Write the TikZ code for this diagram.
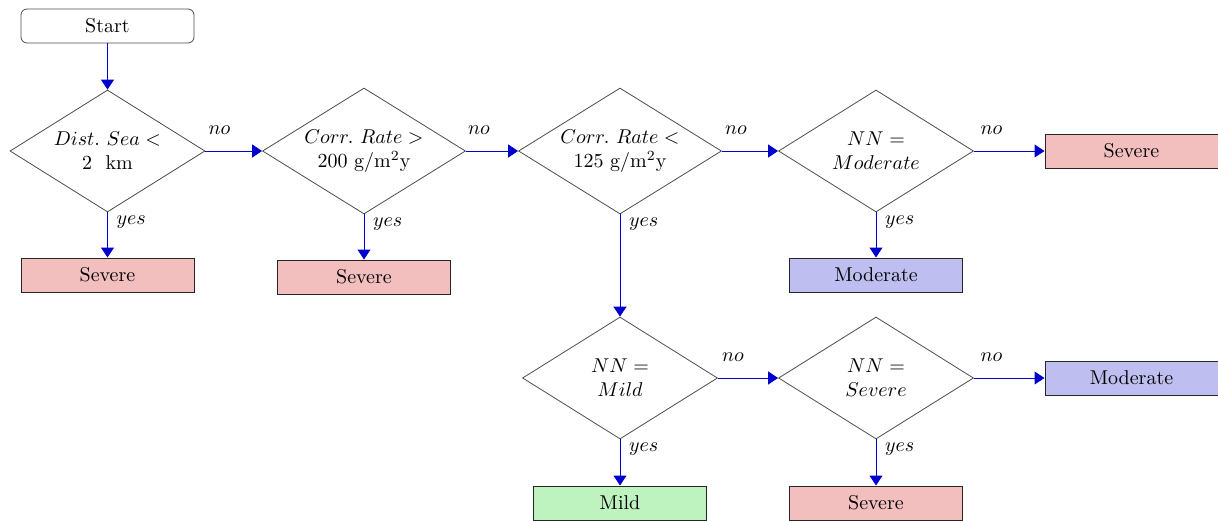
\documentclass[tikz,border=0pt]{standalone}
\usetikzlibrary{shapes.geometric,arrows.meta}
\definecolor{arrowblue}{RGB}{0,0,205}
\definecolor{sevfill}{RGB}{242,190,190}
\definecolor{modfill}{RGB}{190,190,240}
\definecolor{mildfill}{RGB}{190,242,190}
\tikzset{
  startbox/.style={draw=black!70, rounded corners=3pt, minimum width=86.5pt, minimum height=17pt, inner sep=0pt, line width=0.4pt},
  outbox/.style={draw=black!85, minimum width=86.5pt, minimum height=17pt, inner sep=0pt, line width=0.5pt},
  sevbox/.style={outbox, fill=sevfill},
  modbox/.style={outbox, fill=modfill},
  mildbox/.style={outbox, fill=mildfill},
  decision/.style={diamond, shape aspect=1.6, draw=black!70, line width=0.4pt, inner sep=0pt, align=center, minimum width=97.5pt, minimum height=61pt},
  bigdecision/.style={decision, minimum width=101.5pt, minimum height=63pt},
  flow/.style={draw=arrowblue, line width=0.5pt, -{Triangle[length=5pt,width=6.5pt]}},
  nolabel/.style={pos=0.25, above=4.7pt, text=black},
  yeslabel/.style={pos=0, anchor=west, yshift=-5pt, xshift=1pt, text=black}
}
\begin{document}
\begin{tikzpicture}[x=0.5pt, y=-0.5pt]
\useasboundingbox (0,0) rectangle (1218,520);
\node[startbox] (start) at (107.5,26) {Start};
\node[decision] (d1) at (107.5,151) {$Dist.\ Sea <$\\ 2~~km};
\node[sevbox] (s1) at (107.5,275) {Severe};
\node[bigdecision] (d2) at (364,151) {$Corr.\ Rate >$\\ 200 g/m$^2$y};
\node[sevbox] (s2) at (364,277) {Severe};
\node[bigdecision] (d3) at (620,151) {$Corr.\ Rate <$\\ 125 g/m$^2$y};
\node[decision] (d4) at (876,151) {$NN =$\\ $Moderate$};
\node[sevbox] (s3) at (1131.5,151) {Severe};
\node[modbox] (m1) at (876,275) {Moderate};
\node[decision] (d5) at (620,378) {$NN =$\\ $Mild$};
\node[mildbox] (mi) at (620,503) {Mild};
\node[decision] (d6) at (876,378) {$NN =$\\ $Severe$};
\node[modbox] (m2) at (1131.5,378) {Moderate};
\node[sevbox] (s4) at (876,503) {Severe};

\draw[flow] (start) -- (d1);
\draw[flow] (d1.south) -- node[yeslabel] {$yes$} (s1);
\draw[flow] (d1.east) -- node[nolabel] {$no$} (d2.west);
\draw[flow] (d2.south) -- node[yeslabel] {$yes$} (s2);
\draw[flow] (d2.east) -- node[nolabel] {$no$} (d3.west);
\draw[flow] (d3.south) -- node[yeslabel] {$yes$} (d5.north);
\draw[flow] (d3.east) -- node[nolabel] {$no$} (d4.west);
\draw[flow] (d4.south) -- node[yeslabel] {$yes$} (m1);
\draw[flow] (d4.east) -- node[nolabel] {$no$} (s3.west);
\draw[flow] (d5.south) -- node[yeslabel] {$yes$} (mi);
\draw[flow] (d5.east) -- node[nolabel] {$no$} (d6.west);
\draw[flow] (d6.south) -- node[yeslabel] {$yes$} (s4);
\draw[flow] (d6.east) -- node[nolabel] {$no$} (m2.west);
\end{tikzpicture}
\end{document}
